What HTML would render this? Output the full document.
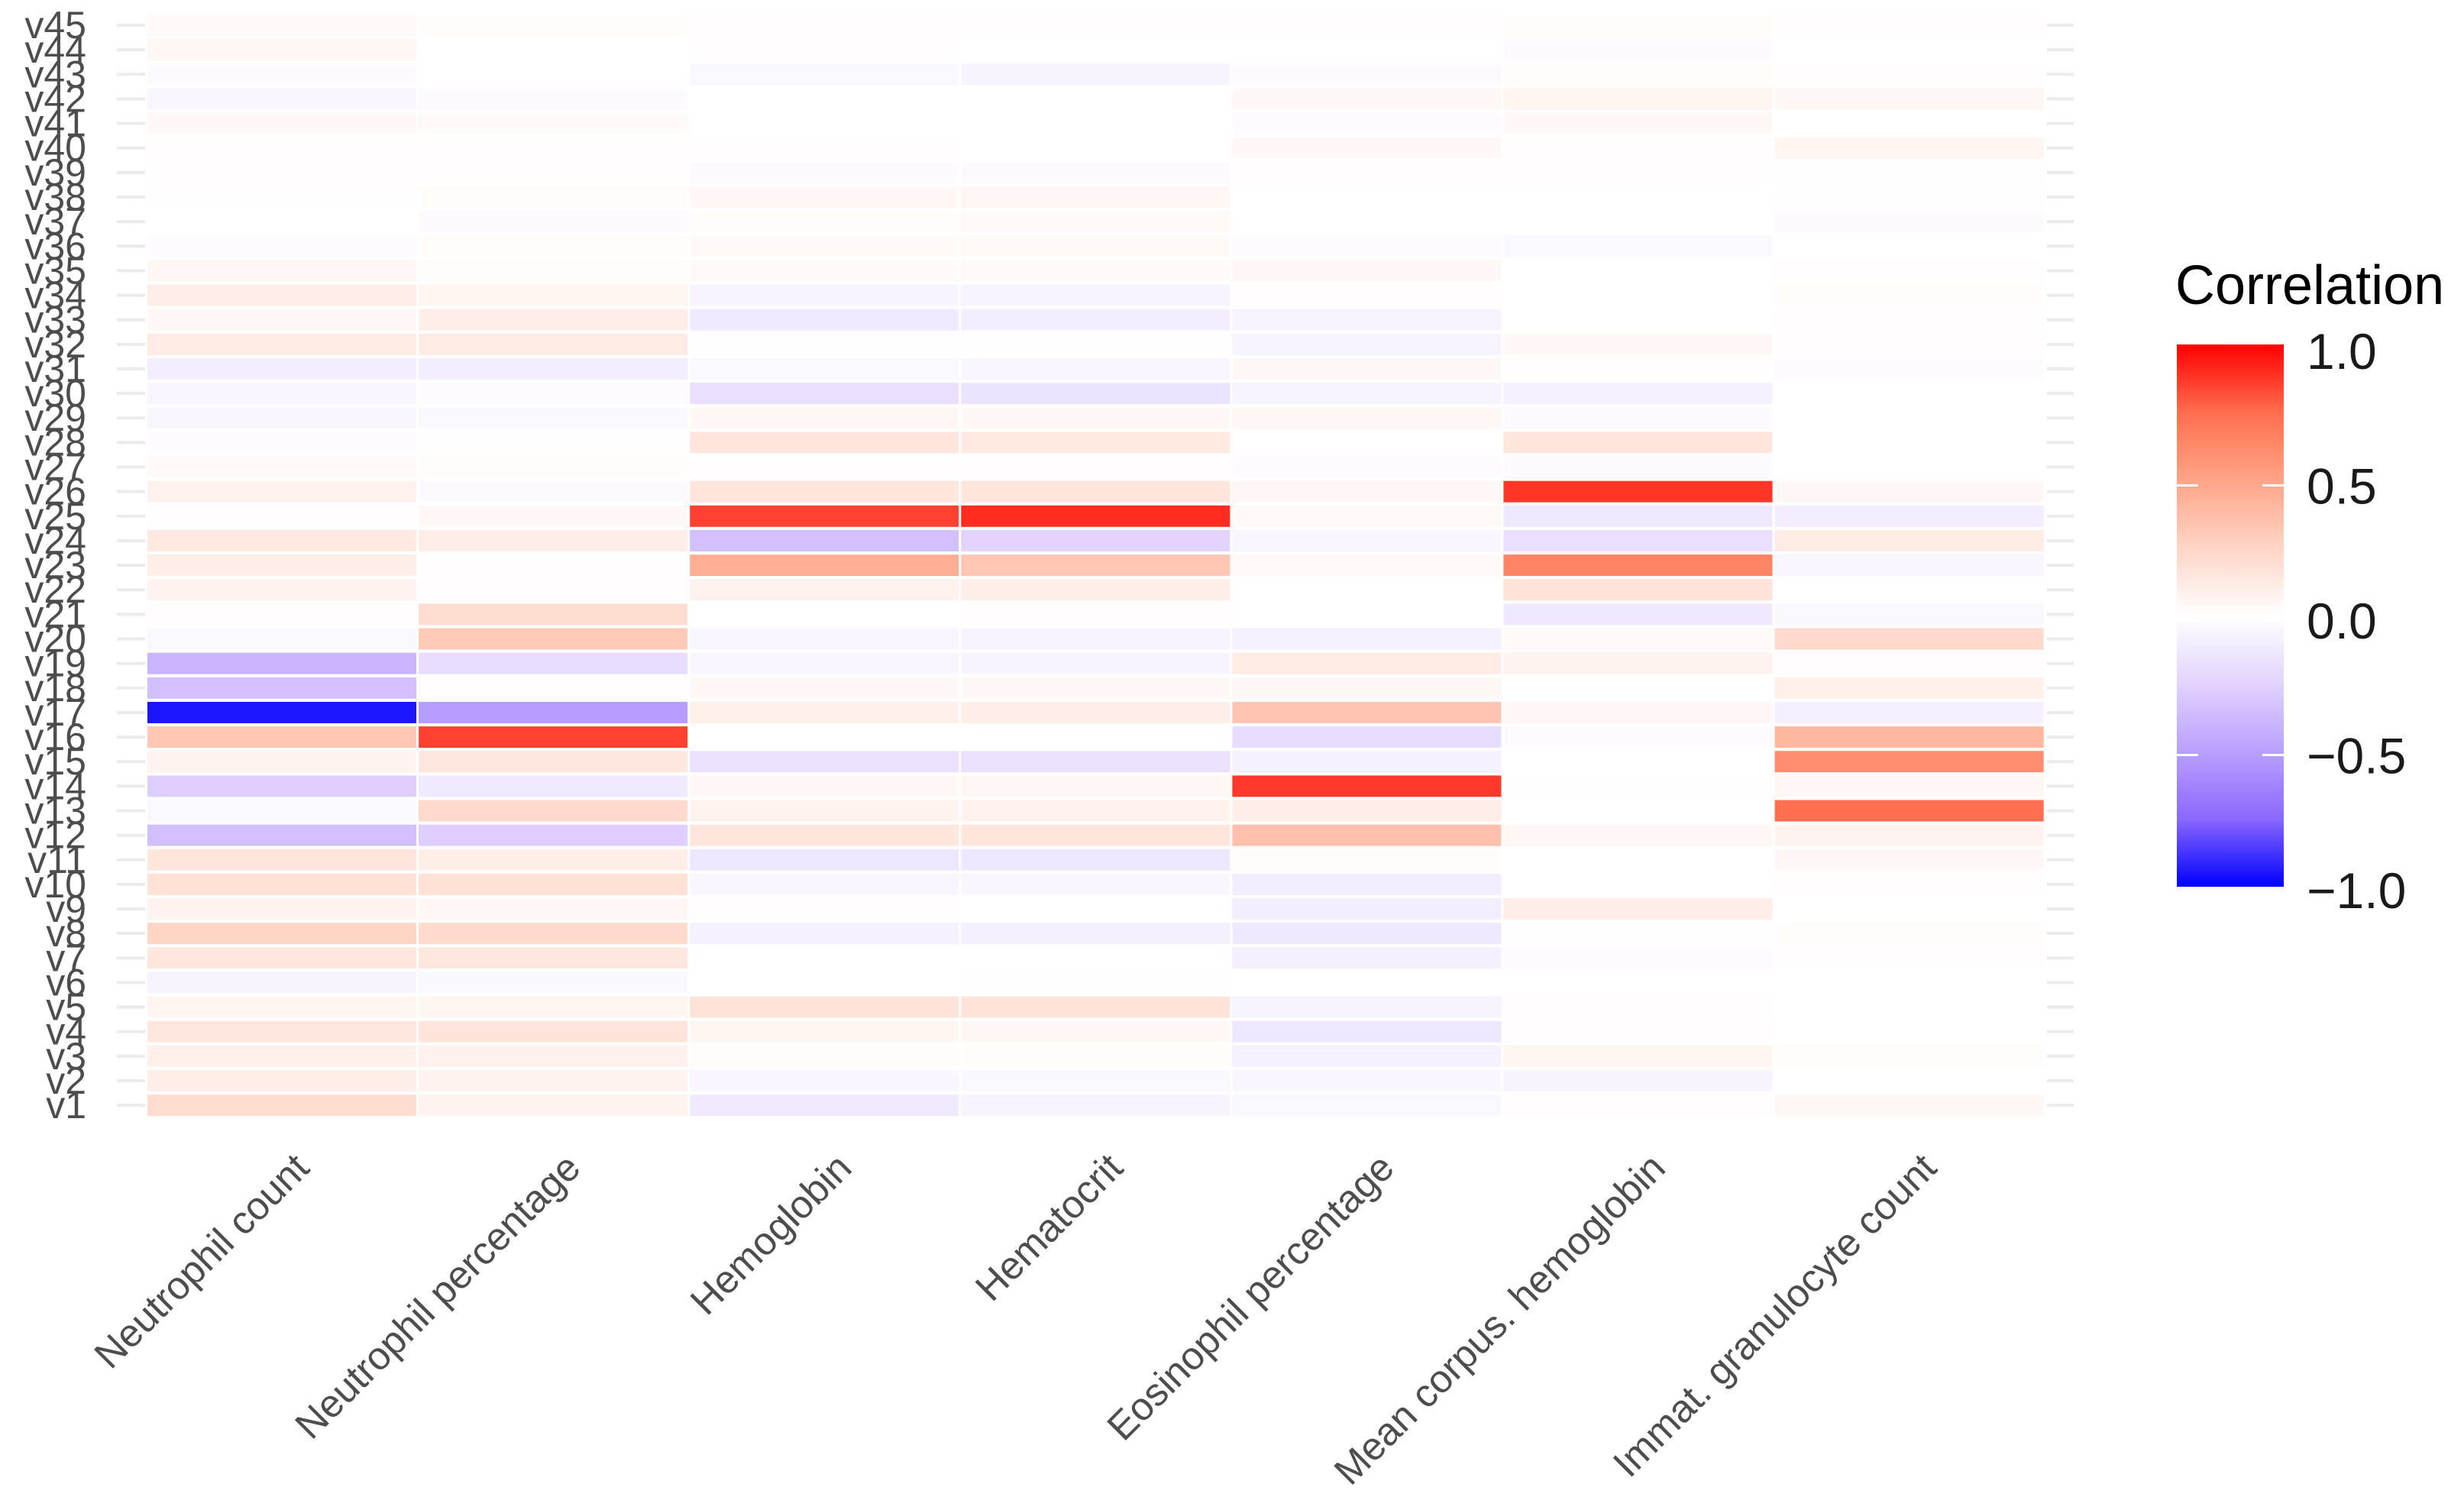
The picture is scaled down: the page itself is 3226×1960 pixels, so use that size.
<!DOCTYPE html>
<html><head><meta charset="utf-8"><style>
html,body{margin:0;padding:0;background:#fff;}
svg{display:block;font-family:"Liberation Sans",sans-serif;}
</style></head><body>
<svg id="chart" width="3226" height="1960" viewBox="0 0 3226 1960" xmlns="http://www.w3.org/2000/svg">
<defs>
<linearGradient id="lg" x1="0" y1="0" x2="0" y2="1">
<stop offset="0" stop-color="#FF0000"/><stop offset="0.125" stop-color="#FF6E4E"/><stop offset="0.25" stop-color="#FFA487"/><stop offset="0.375" stop-color="#FFD5C6"/><stop offset="0.5" stop-color="#FFFFFF"/><stop offset="0.625" stop-color="#E2D3FF"/><stop offset="0.75" stop-color="#B9A0FF"/><stop offset="0.875" stop-color="#8B68FF"/><stop offset="1" stop-color="#0000FF"/>
</linearGradient>
</defs>
<g id="cells"></g>
<g id="yaxis"></g>
<g id="xaxis"></g>
<g id="legend">
<text x="2848" y="398" font-size="72" fill="#000">Correlation</text>
<rect x="2850" y="451" width="140" height="710" fill="url(#lg)"/>
</g>
</svg>
<script>
const rowLabels = Array.from({length:45},(_,i)=>'v'+(i+1));
const colLabels = ["Neutrophil count","Neutrophil percentage","Hemoglobin","Hematocrit","Eosinophil percentage","Mean corpus. hemoglobin","Immat. granulocyte count"];
const neutrophilCount = [0.2,0.1,0.09,0.14,0.06,-0.06,0.15,0.25,0.07,0.18,0.15,-0.35,-0.04,-0.27,0.07,0.32,-0.95,-0.35,-0.4,-0.04,0.01,0.07,0.1,0.13,0.01,0.08,0.03,-0.02,-0.05,-0.05,-0.1,0.12,0.04,0.1,0.05,-0.02,0,-0.01,0.01,0.01,0.04,-0.05,-0.03,0.05,0.03];
const neutrophilPct = [0.07,0.07,0.08,0.16,0.06,-0.04,0.14,0.22,0.05,0.18,0.1,-0.27,0.22,-0.12,0.14,0.85,-0.52,0.01,-0.2,0.3,0.2,0.01,0.01,0.1,0.04,-0.03,0.02,-0.01,-0.04,-0.02,-0.1,0.12,0.1,0.06,0.02,0.02,-0.03,0.02,0.01,0.01,0.03,-0.03,0,0,0.02];
const hemoglobin = [-0.12,-0.05,0.02,0.06,0.17,0,0,-0.08,0.01,-0.05,-0.14,0.15,0.07,0.04,-0.17,0,0.09,0.04,-0.05,-0.05,0,0.08,0.45,-0.35,0.85,0.15,0.01,0.15,0.05,-0.18,-0.04,-0.01,-0.12,-0.07,0.03,0.03,0.02,0.04,-0.03,0.01,0,0,-0.04,0.01,0.01];
const hematocrit = [-0.07,-0.04,0.02,0.05,0.17,-0.01,0,-0.09,0,-0.05,-0.14,0.15,0.08,0.05,-0.17,0,0.1,0.04,-0.06,-0.06,0.01,0.1,0.32,-0.25,0.9,0.15,0.01,0.13,0.04,-0.16,-0.05,-0.01,-0.1,-0.07,0.03,0.03,0.03,0.05,-0.03,0,0,0,-0.06,0,0.01];
const eosinophilPct = [-0.04,-0.05,-0.08,-0.14,-0.07,0,-0.09,-0.13,-0.1,-0.1,0.02,0.35,0.1,0.87,-0.08,-0.2,0.33,0.05,0.12,-0.08,0,0,0.03,-0.05,0.03,0.04,-0.02,0,0.05,-0.07,0.04,-0.07,-0.06,0.01,0.04,-0.02,0,0,0.01,0.04,-0.02,0.04,-0.03,0,0.01];
const meanCorpHb = [0.01,-0.06,0.06,0.01,0.01,0,-0.02,-0.01,0.1,0,0,0.05,0,-0.01,0,-0.02,0.04,0,0.07,0.03,-0.13,0.17,0.65,-0.18,-0.13,0.88,-0.03,0.15,-0.03,-0.08,0.01,0.04,0,0,0,-0.04,0,0,0.01,0.01,0.04,0.06,0.02,-0.03,0.02];
const immatGran = [0.04,0,0.02,0,0,0,0.01,0.02,0,0.01,0.04,0.07,0.75,0.05,0.6,0.4,-0.09,0.09,0.01,0.22,-0.04,0,-0.05,0.12,-0.1,0.04,0,0,0,0,-0.02,0.01,0.01,0.02,0.01,0,-0.03,-0.01,-0.01,0.06,0,0.05,0.01,0,0.01];
const legendTicks = [1.0,0.5,0.0,-0.5,-1.0];
const legendTickLabels = ["1.0","0.5","0.0","\u22120.5","\u22121.0"];

const series = [neutrophilCount,neutrophilPct,hemoglobin,hematocrit,eosinophilPct,meanCorpHb,immatGran];
const NS='http://www.w3.org/2000/svg';
const x0=192, colW=355.1, yTop=33, rowP=32.14;
function xPos(j){return x0+j*colW;}
function yPos(i){return yTop+(rowLabels.length-1-i)*rowP;}
function legY(v){return 812-v*353;}
const stopsPos=[[0,[255,255,255]],[0.25,[255,213,198]],[0.5,[255,164,135]],[0.75,[255,110,78]],[1,[255,0,0]]];
const stopsNeg=[[0,[255,255,255]],[0.25,[226,211,255]],[0.5,[185,160,255]],[0.75,[139,104,255]],[1,[0,0,255]]];
function color(v){
  const s=v>=0?stopsPos:stopsNeg; let a=Math.min(1,Math.abs(v));
  for(let k=1;k<s.length;k++){ if(a<=s[k][0]){const t=(a-s[k-1][0])/(s[k][0]-s[k-1][0]);
    const c=s[k-1][1].map((c0,m)=>Math.round(c0+(s[k][1][m]-c0)*t)); return 'rgb('+c.join(',')+')';}}
  return 'rgb('+s[s.length-1][1].join(',')+')';
}
function mk(tag,attrs,parent){const e=document.createElementNS(NS,tag);for(const k in attrs)e.setAttribute(k,attrs[k]);parent.appendChild(e);return e;}
const cells=document.getElementById('cells');
series.forEach((arr,j)=>{
  arr.forEach((v,i)=>{
    const r=mk('rect',{x:xPos(j)+1,y:yPos(i)-14,width:colW-3,height:28,fill:color(v)},cells);
    
    
  });
});
const ya=document.getElementById('yaxis');
rowLabels.forEach((lab,i)=>{
  const y=yPos(i);
  const t1=mk('rect',{x:153,y:y-2,width:37,height:4,fill:'#ebebeb'},ya);
  
  
  const t2=mk('rect',{x:2680,y:y-2,width:35,height:4,fill:'#ebebeb'},ya);
  
  
  const t=mk('text',{x:113,y:y+17,'text-anchor':'end','font-size':50,fill:'#4d4d4d'},ya);
  t.textContent=lab;
  
  
});
const xa=document.getElementById('xaxis');
colLabels.forEach((lab,j)=>{
  const cx=xPos(j)+colW/2+38, cy=1532;
  const t=mk('text',{x:cx,y:cy,'text-anchor':'end','font-size':51,fill:'#4d4d4d',transform:'rotate(-45 '+cx+' '+cy+')'},xa);
  t.textContent=lab;
  
  
});
const lg=document.getElementById('legend');
legendTicks.forEach((v,k)=>{
  const y=legY(v);
  if(Math.abs(v)<1){
    const a=mk('rect',{x:2850,y:y-1.5,width:28,height:3,fill:'#fff'},lg);
    
    
    const b=mk('rect',{x:2962,y:y-1.5,width:28,height:3,fill:'#fff'},lg);
    
    
  }
  const t=mk('text',{x:3020,y:y+24,'font-size':66,fill:'#1a1a1a'},lg);
  t.textContent=legendTickLabels[k];
  
  
});
</script>
</body></html>
